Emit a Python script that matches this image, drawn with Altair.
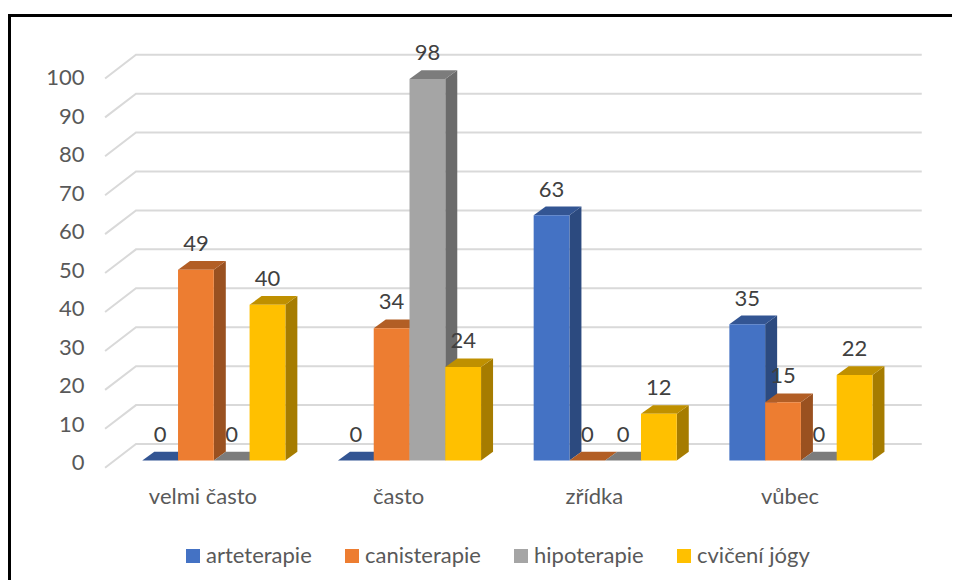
import altair as alt
import pandas as pd

CATEGORIES = ["velmi často", "často", "zřídka", "vůbec"]
SERIES = ["arteterapie", "canisterapie", "hipoterapie", "cvičení jógy"]
ARTETERAPIE = [0, 0, 63, 35]
CANISTERAPIE = [49, 34, 0, 15]
HIPOTERAPIE = [0, 98, 0, 0]
JOGA = [40, 24, 12, 22]
SERIES_VALUES = [ARTETERAPIE, CANISTERAPIE, HIPOTERAPIE, JOGA]
Y_TICKS = [0, 10, 20, 30, 40, 50, 60, 70, 80, 90, 100]

FRONT = ["#4472c4", "#ed7d31", "#a5a5a5", "#ffc000"]
TOP = ["#335593", "#b25e25", "#7c7c7c", "#bf9000"]
SIDE = ["#2c4a7f", "#9a5120", "#6b6b6b", "#a67c00"]
GRID = "#d9d9d9"
TEXT = "#595959"
LABEL = "#404040"
FONT = "Lato"
FS = 22

W, H = 944, 572
xscale = alt.Scale(domain=[-0.654, 4.1696], range=[0, W], nice=False, zero=False)
yscale = alt.Scale(domain=[-34.93, 112.0], range=[H, 0], nice=False, zero=False)
X = lambda f: alt.X(f, type="quantitative", scale=xscale, axis=None)
Y = lambda f: alt.Y(f, type="quantitative", scale=yscale, axis=None)

BAR_START = 0.032      # first bar's left edge, in group units
BAR_W = 0.1828         # bar width, in group units
DEPTH_X = 0.0613       # 3D depth, in group units
DEPTH_Y = 2.23         # 3D depth, in value units
BASE = -4.24           # front floor of the bars, in value units
WALL_X = -0.158        # front end of the slanted grid segment
WALL_Y = -6.09
GRID_END = 4.015
LABEL_UP = 6.6

layers = []

# frame
layers.append(alt.Chart(pd.DataFrame({"a": [0]})).mark_rule(color="#000000", strokeWidth=3).encode(
    x=alt.value(1.5), x2=alt.value(W), y=alt.value(7.5)))
layers.append(alt.Chart(pd.DataFrame({"a": [0]})).mark_rule(color="#000000", strokeWidth=3).encode(
    x=alt.value(1.5), y=alt.value(6), y2=alt.value(H)))

# gridlines
rows = []
for v in Y_TICKS:
    rows += [
        {"v": v, "o": 0, "x": WALL_X, "y": v + WALL_Y},
        {"v": v, "o": 1, "x": 0.0, "y": v},
        {"v": v, "o": 2, "x": GRID_END, "y": v},
    ]
layers.append(alt.Chart(pd.DataFrame(rows)).mark_line(color=GRID, strokeWidth=2).encode(
    x=X("x"), y=Y("y"), detail="v:N", order="o:Q"))

# bars
all_labels = []
for s, (name, vals) in enumerate(zip(SERIES, SERIES_VALUES)):
    side, top, front = [], [], []
    for c, v in enumerate(vals):
        x0 = c + BAR_START + s * BAR_W
        x1 = x0 + BAR_W
        y0 = BASE
        y1 = BASE + v
        side += [
            {"c": c, "x": x1, "y": y0, "y2": y1},
            {"c": c, "x": x1 + DEPTH_X, "y": y0 + DEPTH_Y, "y2": y1 + DEPTH_Y},
        ]
        top += [
            {"c": c, "y": y1, "x": x0, "x2": x1},
            {"c": c, "y": y1 + DEPTH_Y, "x": x0 + DEPTH_X, "x2": x1 + DEPTH_X},
        ]
        front.append({"series": name, "x": x0, "x2": x1, "y": y0, "y2": y1})
        all_labels.append({"x": (x0 + x1) / 2, "y": y1 + LABEL_UP, "t": v})
    layers.append(alt.Chart(pd.DataFrame(side)).mark_area(color=SIDE[s], orient="vertical").encode(
        x=X("x"), y=Y("y"), y2="y2:Q", detail="c:N"))
    layers.append(alt.Chart(pd.DataFrame(top)).mark_area(color=TOP[s], orient="horizontal").encode(
        y=Y("y"), x=X("x"), x2="x2:Q", detail="c:N"))
    layers.append(alt.Chart(pd.DataFrame(front)).mark_rect().encode(
        x=X("x"), x2="x2:Q", y=Y("y"), y2="y2:Q",
        color=alt.Color("series:N", scale=alt.Scale(domain=SERIES, range=FRONT), legend=alt.Legend(
            title=None, orient="none", legendX=174, legendY=537, direction="horizontal",
            columns=4, gridAlign="each", columnPadding=29, symbolType="square", symbolSize=196,
            symbolStrokeWidth=0, labelOffset=2, labelFont=FONT, labelFontSize=FS, labelColor=TEXT,
            labelLimit=200, padding=0))))

# data labels
layers.append(alt.Chart(pd.DataFrame(all_labels)).mark_text(
    font=FONT, fontSize=FS, color=LABEL, baseline="middle", align="center").encode(
    x=X("x"), y=Y("y"), text="t:Q"))

# y tick labels
tick_df = pd.DataFrame({"t": Y_TICKS, "x": [-0.2625] * len(Y_TICKS),
                        "y": [-4.88 + t * 0.9888 for t in Y_TICKS]})
layers.append(alt.Chart(tick_df).mark_text(
    font=FONT, fontSize=FS, color=TEXT, baseline="middle", align="right").encode(
    x=X("x"), y=Y("y"), text="t:Q"))

# category labels
cat_df = pd.DataFrame({"t": CATEGORIES, "x": [i + 0.5 + WALL_X for i in range(4)], "y": [-13.65] * 4})
layers.append(alt.Chart(cat_df).mark_text(
    font=FONT, fontSize=FS, color=TEXT, baseline="middle", align="center").encode(
    x=X("x"), y=Y("y"), text="t:N"))

chart = alt.layer(*layers).properties(
    width=W, height=H, padding=0, autosize=alt.AutoSizeParams(type="none"), background="#ffffff"
).configure_view(strokeWidth=0)

chart.save("out.html", embed_options={"renderer": "svg", "actions": False})
